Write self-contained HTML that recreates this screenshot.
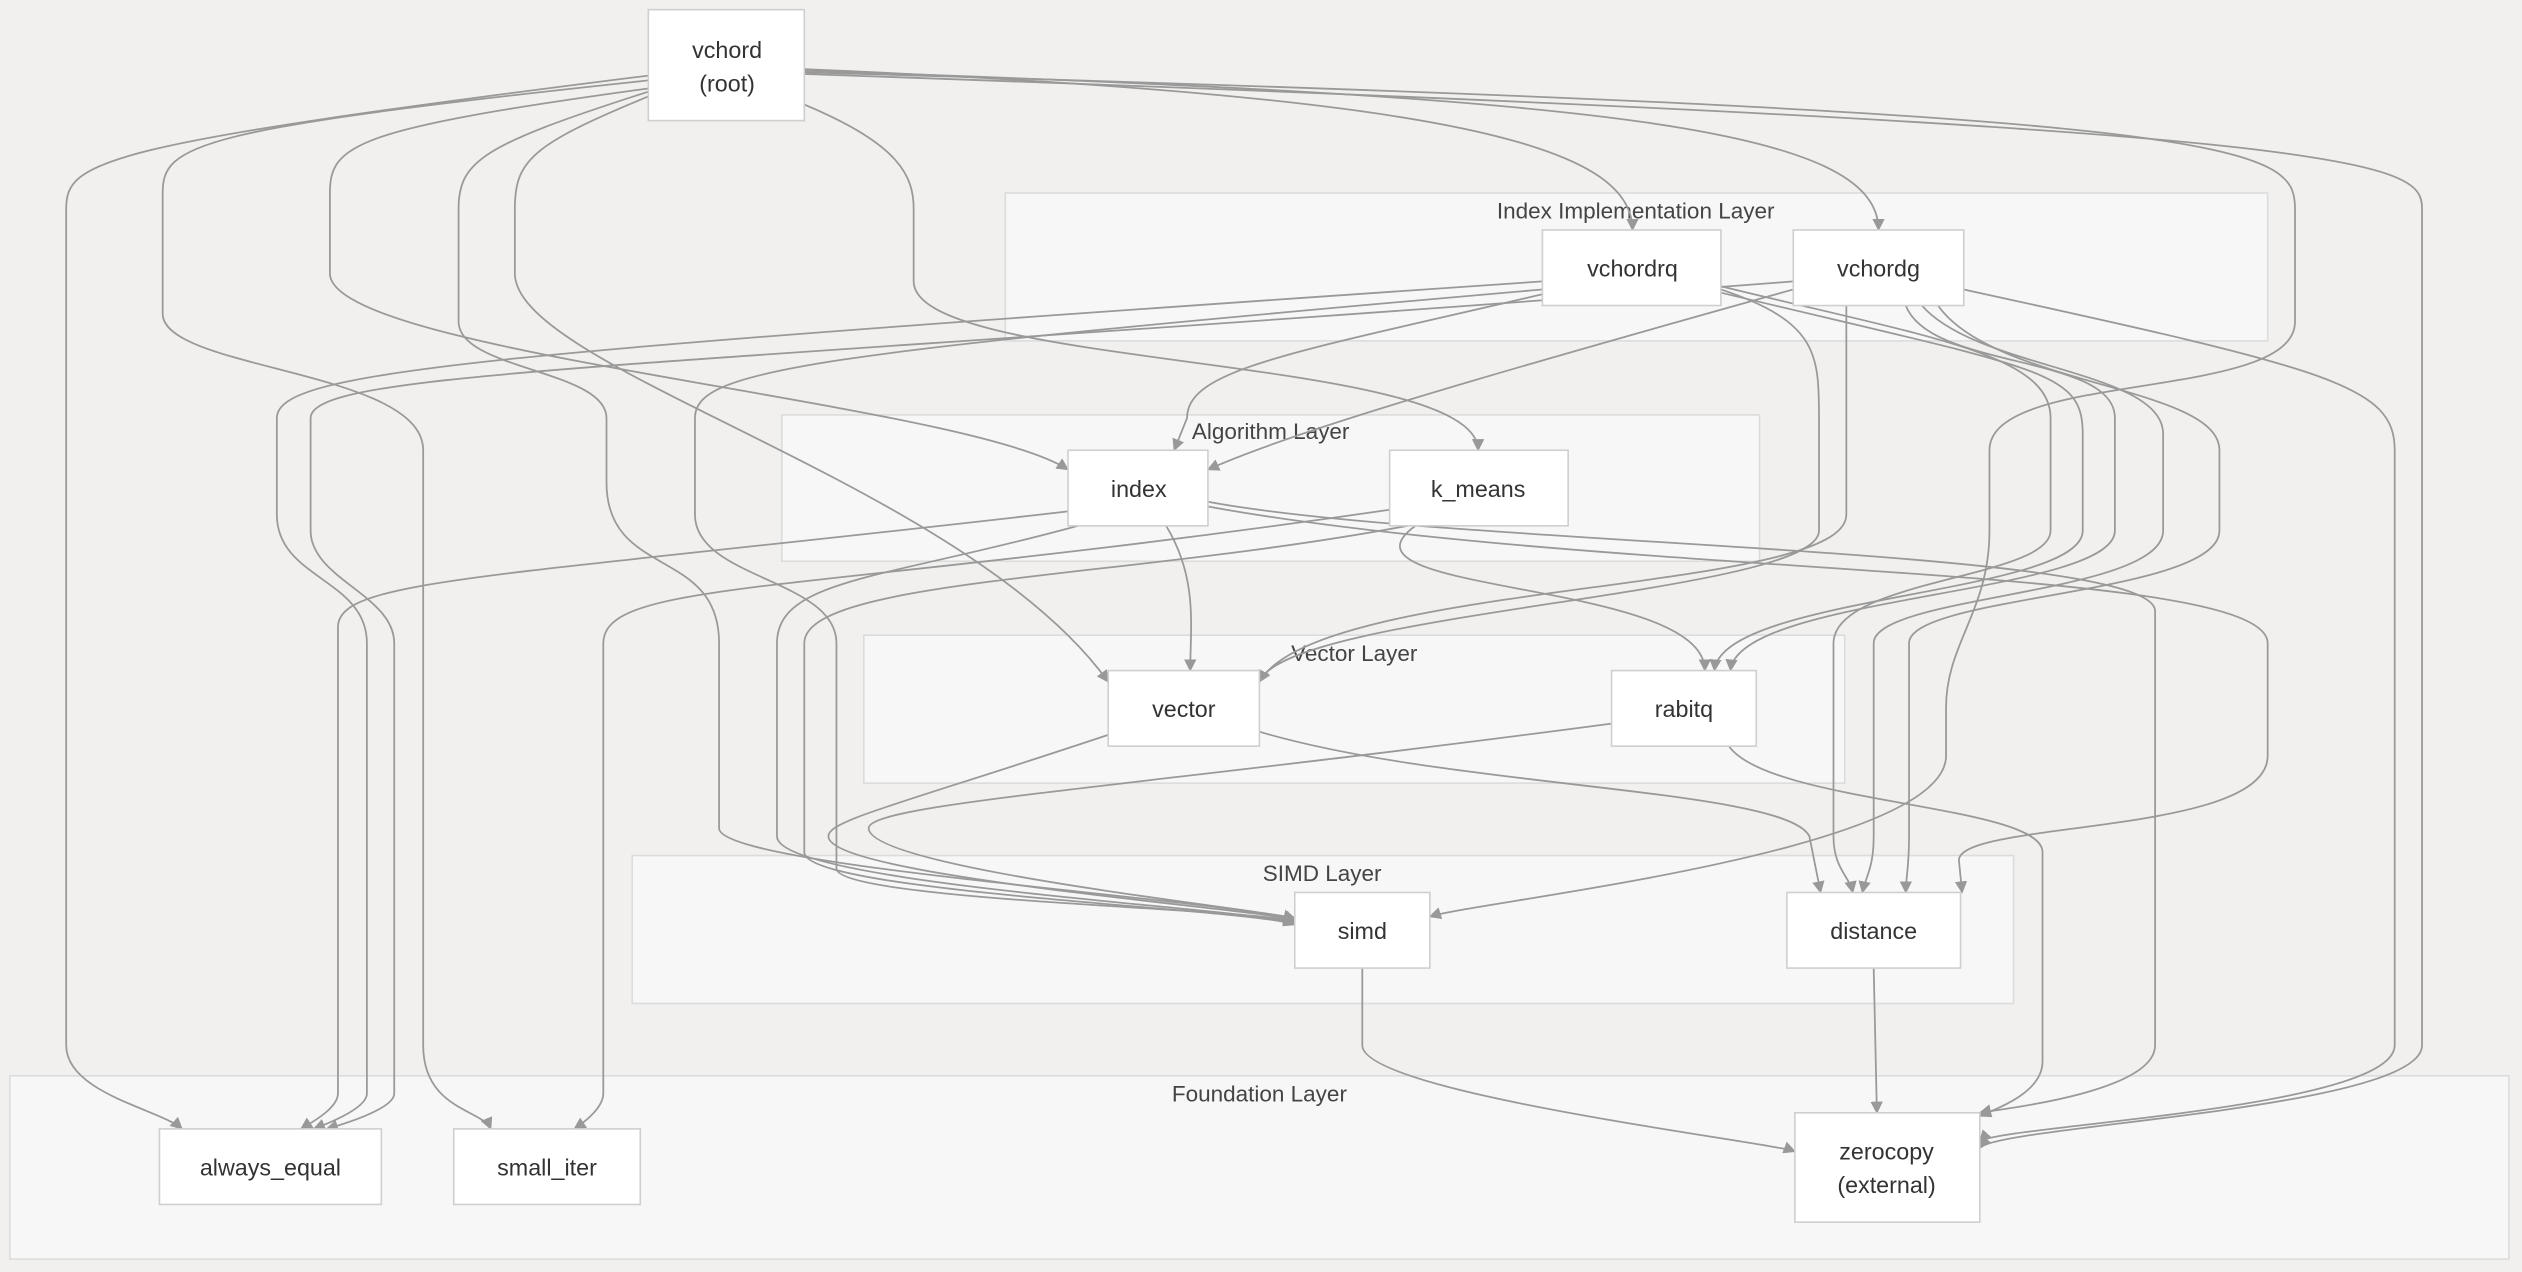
<!DOCTYPE html>
<html><head><meta charset="utf-8"><style>
html,body{margin:0;padding:0;background:#f1f0ee;}
svg{display:block;}
text{font-family:"Liberation Sans",sans-serif;fill:#333;}
.c{fill:#f7f7f7;stroke:#dcdcdc;stroke-width:1;}
.n{fill:#fff;stroke:#cfcfcf;stroke-width:1;}
.e{fill:none;stroke:#999;stroke-width:1.1;marker-end:url(#a);}
.cl{font-size:14px;text-anchor:middle;fill:#444;}
.nl{font-size:14.5px;text-anchor:middle;}
</style></head><body>
<svg width="2522" height="1272" viewBox="0 0 1568 791" xmlns="http://www.w3.org/2000/svg">
<defs><marker id="a" viewBox="0 0 10 10" refX="9" refY="5" markerWidth="7" markerHeight="7" orient="auto"><path d="M0,0L10,5L0,10z" fill="#999"/></marker></defs>
<rect width="1568" height="791" fill="#f1f0ee"/>
<rect class="c" x="625" y="120" width="785" height="92"/>
<text class="cl" x="1017" y="136">Index Implementation Layer</text>
<rect class="c" x="486" y="258" width="608" height="91"/>
<text class="cl" x="790" y="273">Algorithm Layer</text>
<rect class="c" x="537" y="395" width="610" height="92"/>
<text class="cl" x="842" y="411">Vector Layer</text>
<rect class="c" x="393" y="532" width="859" height="92"/>
<text class="cl" x="822" y="548">SIMD Layer</text>
<rect class="c" x="6" y="669" width="1554" height="114"/>
<text class="cl" x="783" y="685">Foundation Layer</text>

<g>
<path class="e" d="M403,47 C60,90 41,100 41,130 L41,650 C41,680 100,690 113,702"/>
<path class="e" d="M403,50 C120,80 101,90 101,120 L101,195 C101,230 263,230 263,280 L263,650 C263,690 300,690 305,702"/>
<path class="e" d="M403,55 C220,80 205,90 205,120 L205,170 C205,220 600,250 664,292"/>
<path class="e" d="M403,57 C300,90 285,100 285,130 L285,200 C285,230 377,230 377,260 L377,300 C377,360 447,340 447,400 L447,515 C447,540 780,560 805,573"/>
<path class="e" d="M403,60 C330,90 320,100 320,130 L320,170 C320,230 600,300 689,424"/>
<path class="e" d="M500,65 C560,90 568,110 568,130 L568,175 C568,230 919,220 919,280"/>
<path class="e" d="M500,43 C900,60 1015,90 1015,143"/>
<path class="e" d="M500,44 C1000,60 1168,80 1168,143"/>
<path class="e" d="M500,45 C1400,70 1427,90 1427,130 L1427,200 C1427,250 1237,230 1237,280 L1237,330 C1237,380 1210,400 1210,440 L1210,470 C1210,530 920,560 889,570"/>
<path class="e" d="M500,46 C1480,80 1506,100 1506,130 L1506,650 C1506,690 1240,700 1231,714"/>
<path class="e" d="M959,175 C300,220 172,230 172,260 L172,320 C172,360 228,360 228,400 L228,680 C228,690 200,700 195,702"/>
<path class="e" d="M959,180 C500,220 432,230 432,260 L432,320 C432,360 520,360 520,400 L520,540 C520,560 780,565 805,573"/>
<path class="e" d="M959,183 C800,220 738,230 738,260 L730,280"/>
<path class="e" d="M1070,178 C1200,210 1275,220 1275,260 L1275,330 C1275,360 1140,360 1140,400 L1140,520 C1140,540 1150,545 1152,555"/>
<path class="e" d="M1070,180 C1130,200 1131,220 1131,260 L1131,330 C1131,370 800,380 783,424"/>
<path class="e" d="M1070,182 C1270,230 1295,230 1295,270 L1295,330 C1295,370 1070,370 1066,417"/>
<path class="e" d="M1115,175 C400,230 193,230 193,260 L193,330 C193,360 245,370 245,400 L245,680 C245,690 210,700 203,702"/>
<path class="e" d="M1115,180 C900,240 800,270 751,292"/>
<path class="e" d="M1148,190 C1148,230 1148,270 1148,320 C1148,370 820,360 783,424"/>
<path class="e" d="M1185,190 C1200,230 1315,220 1315,260 L1315,330 C1315,370 1080,370 1076,417"/>
<path class="e" d="M1195,190 C1230,230 1345,230 1345,270 L1345,330 C1345,370 1165,370 1165,400 L1165,520 C1165,540 1160,545 1158,555"/>
<path class="e" d="M1205,190 C1240,240 1380,240 1380,280 L1380,330 C1380,370 1187,370 1187,400 L1187,520 C1187,540 1185,545 1185,555"/>
<path class="e" d="M1221,180 C1450,230 1489,240 1489,280 L1489,650 C1489,690 1240,700 1231,710"/>
<path class="e" d="M664,318 C300,360 210,360 210,390 L210,680 C210,690 190,700 187,702"/>
<path class="e" d="M670,327 C550,360 483,360 483,400 L483,520 C483,550 780,565 805,574"/>
<path class="e" d="M725,327 C745,360 740,390 740,417"/>
<path class="e" d="M751,312 C900,340 1340,340 1340,380 L1340,650 C1340,680 1240,690 1231,692"/>
<path class="e" d="M751,315 C1000,360 1410,350 1410,400 L1410,470 C1410,520 1218,510 1218,535 L1220,555"/>
<path class="e" d="M864,317 C500,370 375,360 375,400 L375,680 C375,690 360,700 357,702"/>
<path class="e" d="M880,327 C820,370 1060,360 1060,417"/>
<path class="e" d="M875,327 C700,360 500,360 500,400 L500,530 C500,555 780,565 805,575"/>
<path class="e" d="M689,457 C560,500 515,510 515,520 C515,545 780,565 805,572"/>
<path class="e" d="M783,455 C900,490 1110,490 1125,520 L1132,555"/>
<path class="e" d="M1002,450 C700,490 540,500 540,515 C540,540 780,565 805,571"/>
<path class="e" d="M1075,464 C1100,500 1270,500 1270,530 L1270,660 C1270,680 1240,690 1231,694"/>
<path class="e" d="M847,602 L847,650 C847,680 1100,710 1116,716"/>
<path class="e" d="M1165,602 L1167,692"/>
</g>

<rect class="n" x="403" y="6" width="97" height="69"/>
<text class="nl" x="452" y="36">vchord</text><text class="nl" x="452" y="57">(root)</text>
<rect class="n" x="959" y="143" width="111" height="47"/><text class="nl" x="1015" y="172">vchordrq</text>
<rect class="n" x="1115" y="143" width="106" height="47"/><text class="nl" x="1168" y="172">vchordg</text>
<rect class="n" x="664" y="280" width="87" height="47"/><text class="nl" x="708" y="309">index</text>
<rect class="n" x="864" y="280" width="111" height="47"/><text class="nl" x="919" y="309">k_means</text>
<rect class="n" x="689" y="417" width="94" height="47"/><text class="nl" x="736" y="446">vector</text>
<rect class="n" x="1002" y="417" width="90" height="47"/><text class="nl" x="1047" y="446">rabitq</text>
<rect class="n" x="805" y="555" width="84" height="47"/><text class="nl" x="847" y="584">simd</text>
<rect class="n" x="1111" y="555" width="108" height="47"/><text class="nl" x="1165" y="584">distance</text>
<rect class="n" x="99" y="702" width="138" height="47"/><text class="nl" x="168" y="731">always_equal</text>
<rect class="n" x="282" y="702" width="116" height="47"/><text class="nl" x="340" y="731">small_iter</text>
<rect class="n" x="1116" y="692" width="115" height="68"/>
<text class="nl" x="1173" y="721">zerocopy</text><text class="nl" x="1173" y="742">(external)</text>
</svg>
</body></html>
